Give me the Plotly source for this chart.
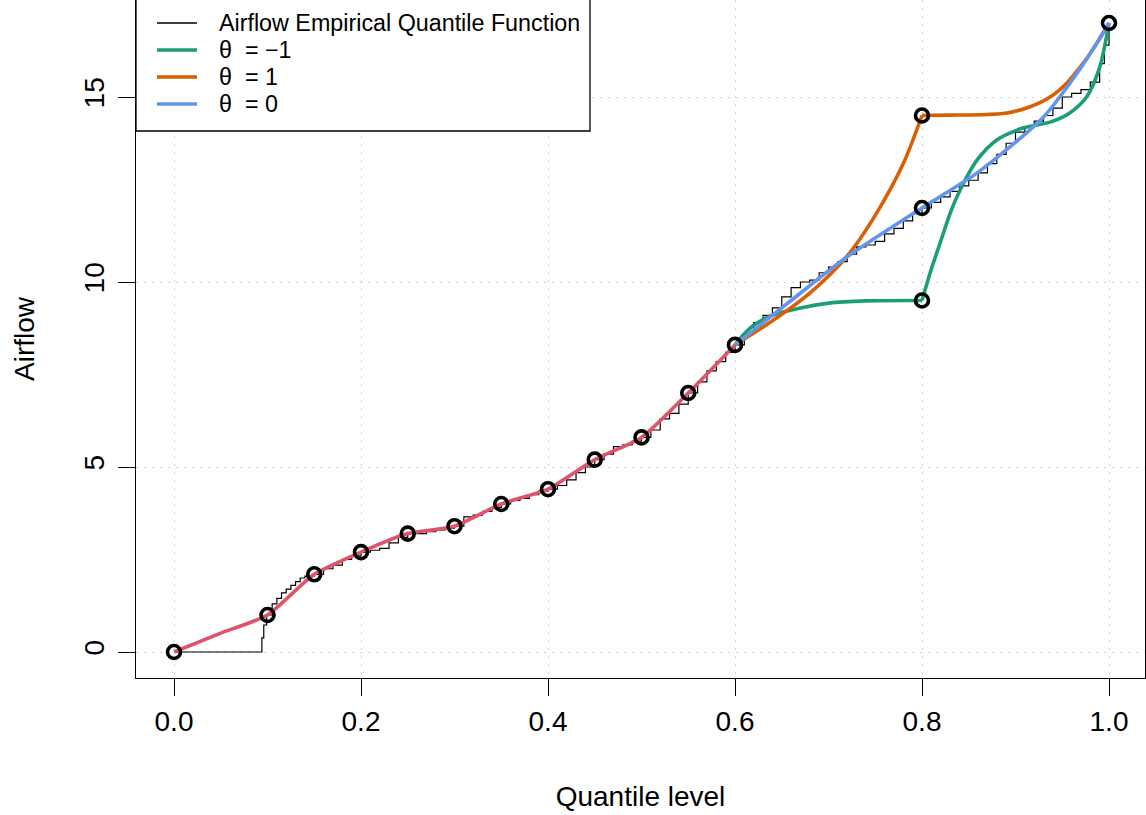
import plotly.graph_objects as go

# ---------------- data ----------------
# Empirical quantile function of Airflow (step function)
ecdf_level = [0.00, 0.094, 0.096, 0.099, 0.105, 0.11, 0.115, 0.12, 0.125, 0.13, 0.135, 0.14,
              0.15, 0.16, 0.17, 0.18, 0.19, 0.20, 0.21, 0.22, 0.23, 0.24, 0.25, 0.26, 0.27,
              0.28, 0.29, 0.30, 0.31, 0.32, 0.33, 0.34, 0.35, 0.36, 0.37, 0.38, 0.39, 0.40,
              0.41, 0.42, 0.43, 0.44, 0.45, 0.46, 0.47, 0.48, 0.49, 0.50, 0.51, 0.52, 0.53,
              0.54, 0.55, 0.56, 0.57, 0.58, 0.59, 0.60, 0.61, 0.62, 0.63, 0.64, 0.65, 0.66,
              0.67, 0.68, 0.69, 0.70, 0.71, 0.72, 0.73, 0.74, 0.75, 0.76, 0.77, 0.78, 0.79,
              0.80, 0.81, 0.82, 0.83, 0.84, 0.85, 0.86, 0.87, 0.88, 0.89, 0.90, 0.91, 0.92,
              0.93, 0.94, 0.95, 0.96, 0.97, 0.98, 0.99, 0.995, 1.00]
ecdf_value = [0.0, 0.38, 0.73, 1.0, 1.3, 1.45, 1.6, 1.7, 1.8, 1.9, 2.0, 2.05,
              2.1, 2.25, 2.35, 2.5, 2.6, 2.7, 2.75, 2.8, 2.95, 3.1, 3.2, 3.2, 3.25,
              3.3, 3.35, 3.4, 3.65, 3.7, 3.8, 3.9, 4.0, 4.1, 4.15, 4.25, 4.35, 4.4,
              4.5, 4.65, 4.85, 5.0, 5.2, 5.35, 5.55, 5.6, 5.7, 5.8, 6.0, 6.3, 6.45,
              6.7, 7.0, 7.3, 7.6, 7.85, 8.1, 8.3, 8.6, 8.9, 9.1, 9.3, 9.6, 9.85,
              10.0, 10.05, 10.25, 10.4, 10.55, 10.75, 10.95, 11.0, 11.1, 11.3, 11.45, 11.65, 11.85,
              12.0, 12.15, 12.3, 12.45, 12.6, 12.75, 12.95, 13.2, 13.45, 13.75, 14.05, 14.2, 14.35,
              14.5, 14.7, 15.0, 15.1, 15.2, 15.4, 15.9, 16.4, 17.0]

# Common (known) quantile knots (circles)
knot_level = [0.0, 0.1, 0.15, 0.2, 0.25, 0.3, 0.35, 0.4, 0.45, 0.5, 0.55, 0.6]
knot_value = [0.0, 1.0, 2.1, 2.7, 3.2, 3.4, 4.0, 4.4, 5.2, 5.8, 7.0, 8.3]

# Red interpolating curve through the common knots
red_level = [0.0, 0.05, 0.1, 0.15, 0.2, 0.25, 0.3, 0.35, 0.4, 0.45, 0.5, 0.55, 0.6]
red_value = [0.0, 0.51, 1.0, 2.1, 2.7, 3.2, 3.4, 4.0, 4.4, 5.2, 5.8, 7.0, 8.3]

# Extra knots for the three theta scenarios
extra_level = [0.8, 0.8, 0.8, 1.0]
extra_value = [9.5, 12.0, 14.5, 17.0]

# theta = -1 curve
green_level = [0.6, 0.61, 0.62, 0.64, 0.67, 0.70, 0.74, 0.8, None,
               0.8, 0.81, 0.82, 0.83, 0.841, 0.859, 0.88, 0.908, 0.937, 0.958, 0.976, 0.99, 1.0]
green_value = [8.3, 8.6, 8.83, 9.1, 9.3, 9.43, 9.49, 9.5, None,
               9.5, 10.35, 11.1, 11.85, 12.5, 13.3, 13.84, 14.16, 14.32, 14.57, 15.0, 15.8, 17.0]

# theta = 1 curve
orange_level = [0.6, 0.64, 0.68, 0.72, 0.75, 0.78, 0.8, None,
                0.8, 0.827, 0.862, 0.891, 0.915, 0.937, 0.955, 0.972, 0.987, 1.0]
orange_value = [8.3, 8.95, 9.7, 10.7, 11.8, 13.2, 14.5, None,
                14.5, 14.51, 14.52, 14.57, 14.73, 15.0, 15.38, 15.9, 16.45, 17.0]

# theta = 0 curve
blue_level = [0.6, 0.66, 0.72, 0.8, 0.822, 0.859, 0.894, 0.93, 0.966, 0.987, 1.0]
blue_value = [8.3, 9.5, 10.68, 12.0, 12.35, 12.95, 13.65, 14.46, 15.65, 16.46, 17.0]

x_ticks = [0.0, 0.2, 0.4, 0.6, 0.8, 1.0]
x_tick_labels = ["0.0", "0.2", "0.4", "0.6", "0.8", "1.0"]
y_ticks = [0, 5, 10, 15]
y_tick_labels = ["0", "5", "10", "15"]

legend_labels = ["Airflow Empirical Quantile Function", "\u03b8\u00a0\u00a0= \u22121",
                 "\u03b8\u00a0\u00a0= 1", "\u03b8\u00a0\u00a0= 0"]

# ---------------- styles ----------------
C_RED = "#DF536B"
C_GREEN = "#1B9E77"
C_ORANGE = "#D95F02"
C_BLUE = "#6495ED"
FONT = "Liberation Sans, Arial, Helvetica, sans-serif"

fig = go.Figure()

fig.add_trace(go.Scatter(x=ecdf_level, y=ecdf_value, mode="lines", line_shape="hv",
                         line=dict(color="black", width=1.2), name=legend_labels[0],
                         showlegend=False))
fig.add_trace(go.Scatter(x=red_level, y=red_value, mode="lines", line_shape="spline",
                         line=dict(color=C_RED, width=3.6, smoothing=0.6), showlegend=False))
fig.add_trace(go.Scatter(x=green_level, y=green_value, mode="lines", line_shape="spline",
                         connectgaps=False, line=dict(color=C_GREEN, width=3.6, smoothing=0.8),
                         name=legend_labels[1], showlegend=False))
fig.add_trace(go.Scatter(x=orange_level, y=orange_value, mode="lines", line_shape="spline",
                         connectgaps=False, line=dict(color=C_ORANGE, width=3.6, smoothing=0.8),
                         name=legend_labels[2], showlegend=False))
fig.add_trace(go.Scatter(x=blue_level, y=blue_value, mode="lines", line_shape="spline",
                         line=dict(color=C_BLUE, width=3.6, smoothing=0.8),
                         name=legend_labels[3], showlegend=False))
fig.add_trace(go.Scatter(x=knot_level + extra_level, y=knot_value + extra_value, mode="markers",
                         marker=dict(symbol="circle-open", size=13, color="black",
                                     line=dict(color="black", width=3.6)),
                         showlegend=False))

# ---------------- manual legend (R-style box at top-left) ----------------
W, H = 1009.0, 678.0   # plot area in px
def px(xp):
    return (xp - 136) / W
def py(yp):
    return (678 - yp) / H

fig.add_shape(type="rect", xref="paper", yref="paper", x0=px(136), x1=px(590),
              y0=py(131), y1=py(-10), line=dict(color="black", width=1.3),
              fillcolor="white", layer="above")
row_y = [23, 50, 77, 104]
row_col = ["black", C_GREEN, C_ORANGE, C_BLUE]
row_w = [1.3, 3.6, 3.6, 3.6]
for lab, yy, col, lw in zip(legend_labels, row_y, row_col, row_w):
    fig.add_shape(type="line", xref="paper", yref="paper", x0=px(157), x1=px(197),
                  y0=py(yy), y1=py(yy), line=dict(color=col, width=lw), layer="above")
    fig.add_annotation(xref="paper", yref="paper", x=px(217), y=py(yy), text=lab,
                       showarrow=False, xanchor="left", yanchor="middle",
                       font=dict(size=23.3, color="black", family=FONT))

axis_common = dict(
    showline=True, linecolor="black", linewidth=1.3,
    ticks="outside", ticklen=17, tickwidth=1.3, tickcolor="black",
    showgrid=True, gridcolor="#D3D3D3", gridwidth=1.3, griddash="2px,6px",
    zeroline=False, tickfont=dict(size=28, color="black", family=FONT),
)

fig.update_layout(
    width=1146, height=815,
    margin=dict(l=136, r=1, t=0, b=137, autoexpand=False),
    paper_bgcolor="white", plot_bgcolor="white",
    font=dict(family=FONT, color="black"),
    showlegend=False,
    xaxis=dict(range=[-0.04064, 1.0385], tickvals=x_ticks, ticktext=x_tick_labels,
               title=dict(text="Quantile level", font=dict(size=28, family=FONT), standoff=50),
               mirror=False, automargin=False, ticklabelstandoff=1, **axis_common),
    yaxis=dict(range=[-0.7027, 17.6216], tickvals=y_ticks, ticktext=y_tick_labels,
               tickangle=-90, mirror=True, automargin=False, ticklabelstandoff=3,
               title=dict(text="Airflow", font=dict(size=28, family=FONT), standoff=35),
               **axis_common),
)

fig.write_html("out.html")
